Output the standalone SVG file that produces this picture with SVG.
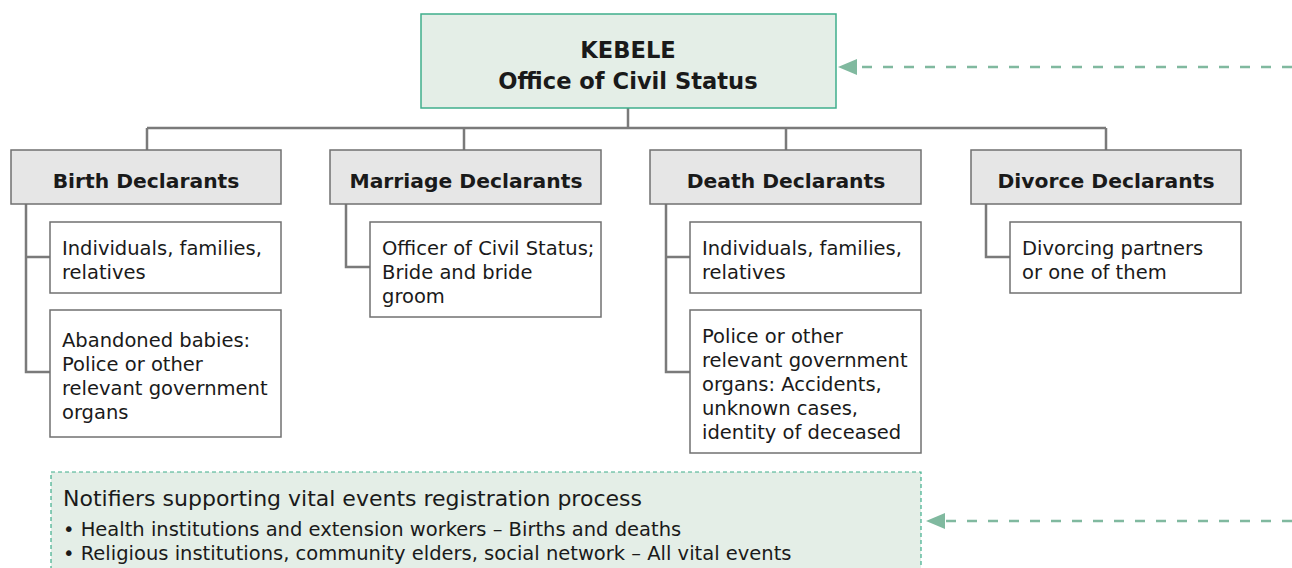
<svg xmlns="http://www.w3.org/2000/svg" width="1292" height="568" viewBox="0 0 1292 568">
<defs>
<style>
.top{fill:#e4eee7;stroke:#3fae8c;stroke-width:1.5}
.hdr{fill:#e6e6e6;stroke:#707070;stroke-width:1.5}
.box{fill:#ffffff;stroke:#707070;stroke-width:1.5}
.note{fill:#e4eee7;stroke:#3fae8c;stroke-width:1.2;stroke-dasharray:4 3}
.ln{fill:none;stroke:#7a7a7a;stroke-width:2.5}
.dash{fill:none;stroke:#80b99f;stroke-width:2.5;stroke-dasharray:10 11}
.head{fill:#80b99f}
text{font-family:"DejaVu Sans","Liberation Sans",sans-serif;fill:#1a1a1a}
.tt{font-size:22.6px;font-weight:bold;text-anchor:middle}
.ht{font-size:20.3px;font-weight:bold;text-anchor:middle}
.ct{font-size:19.5px}
.nt{font-size:22px}
.bt{font-size:19.5px}
</style>
</defs>

<g id="connectors">
<path class="ln" d="M628,108 V128 M147,128 H1106 M147,128 V150 M464,128 V150 M786,128 V150 M1106,128 V150"/>
<path class="ln" d="M26,204 V372 H50 M26,257 H50"/>
<path class="ln" d="M346,204 V267 H370"/>
<path class="ln" d="M666,204 V372 H690 M666,257 H690"/>
<path class="ln" d="M986,204 V257 H1010"/>
<path class="dash" d="M1292,67 H858"/>
<path class="head" d="M838,67 L857,59 L857,75 Z"/>
<path class="dash" d="M1292,521 H946"/>
<path class="head" d="M926,521 L945,513 L945,529 Z"/>
</g>

<g id="kebele">
<rect class="top" x="421" y="14" width="415" height="94"/>
<text class="tt" x="628" y="58">KEBELE</text>
<text class="tt" x="628" y="89">Office of Civil Status</text>
</g>

<g id="birth">
<rect class="hdr" x="11" y="150" width="270" height="54"/>
<text class="ht" x="146" y="188">Birth Declarants</text>
</g>
<g id="birth-1">
<rect class="box" x="50" y="222" width="231" height="71"/>
<text class="ct" x="62" y="255">Individuals, families,</text>
<text class="ct" x="62" y="279">relatives</text>
</g>
<g id="birth-2">
<rect class="box" x="50" y="310" width="231" height="127"/>
<text class="ct" x="62" y="347">Abandoned babies:</text>
<text class="ct" x="62" y="371">Police or other</text>
<text class="ct" x="62" y="395">relevant government</text>
<text class="ct" x="62" y="419">organs</text>
</g>

<g id="marriage">
<rect class="hdr" x="330" y="150" width="271" height="54"/>
<text class="ht" x="466" y="188">Marriage Declarants</text>
</g>
<g id="marriage-1">
<rect class="box" x="370" y="222" width="231" height="95"/>
<text class="ct" x="382" y="255">Officer of Civil Status;</text>
<text class="ct" x="382" y="279">Bride and bride</text>
<text class="ct" x="382" y="303">groom</text>
</g>

<g id="death">
<rect class="hdr" x="650" y="150" width="271" height="54"/>
<text class="ht" x="786" y="188">Death Declarants</text>
</g>
<g id="death-1">
<rect class="box" x="690" y="222" width="231" height="71"/>
<text class="ct" x="702" y="255">Individuals, families,</text>
<text class="ct" x="702" y="279">relatives</text>
</g>
<g id="death-2">
<rect class="box" x="690" y="310" width="231" height="143"/>
<text class="ct" x="702" y="343">Police or other</text>
<text class="ct" x="702" y="367">relevant government</text>
<text class="ct" x="702" y="391">organs: Accidents,</text>
<text class="ct" x="702" y="415">unknown cases,</text>
<text class="ct" x="702" y="439">identity of deceased</text>
</g>

<g id="divorce">
<rect class="hdr" x="971" y="150" width="270" height="54"/>
<text class="ht" x="1106" y="188">Divorce Declarants</text>
</g>
<g id="divorce-1">
<rect class="box" x="1010" y="222" width="231" height="71"/>
<text class="ct" x="1022" y="255">Divorcing partners</text>
<text class="ct" x="1022" y="279">or one of them</text>
</g>

<g id="notifiers">
<rect class="note" x="51" y="472" width="870" height="110"/>
<text class="nt" x="63" y="506">Notifiers supporting vital events registration process</text>
<text class="bt" x="63" y="536">• Health institutions and extension workers – Births and deaths</text>
<text class="bt" x="63" y="560">• Religious institutions, community elders, social network – All vital events</text>
</g>
</svg>
